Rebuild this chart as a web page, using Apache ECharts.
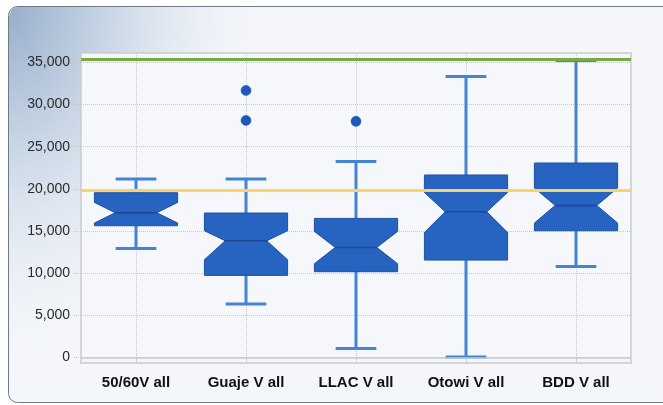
<!DOCTYPE html>
<html>
<head>
<meta charset="utf-8">
<script src="https://cdn.jsdelivr.net/npm/echarts@6/dist/echarts.min.js"></script>
<style>
  html, body { margin: 0; padding: 0; background: #ffffff; }
  #chart { width: 663px; height: 405px; }
</style>
</head>
<body>
<div id="chart"></div>
<script>
// Notched box plots of V by location
const categories = ['50/60V all', 'Guaje V all', 'LLAC V all', 'Otowi V all', 'BDD V all'];
const whiskerLow  = [12930,  6330,  1070,    50, 10790];
const q1          = [15620,  9730, 10170, 11550, 15030];
const notchLow    = [15940, 11590, 11120, 14830, 15940];
const median      = [17160, 13840, 13050, 17280, 18030];
const notchHigh   = [18390, 15030, 14950, 19570, 20100];
const q3          = [19540, 17130, 16490, 21640, 23060];
const whiskerHigh = [21160, 21160, 23250, 33330, 35230];

// Outliers: [category index, value]
const outliers = [[1, 31670], [1, 28110], [2, 28000]];

// Reference lines
const upperLimit = 35370;
const lowerLimit = 19810;

const yTicks = [0, 5000, 10000, 15000, 20000, 25000, 30000, 35000];

const boxData = categories.map((c, i) => [
  i, whiskerLow[i], q1[i], notchLow[i], median[i], notchHigh[i], q3[i], whiskerHigh[i]
]);

const labelFont = '"Liberation Sans Narrow", "Liberation Sans", Arial, sans-serif';

function renderBox(params, api) {
  const idx = api.value(0);
  const band = api.size([1, 0])[0];
  const half = band * 0.378;
  const waist = half * 0.5;
  const capHalf = band * 0.185;
  const pt = (v) => api.coord([idx, v]);
  const cx = pt(api.value(4))[0];
  const yLow = pt(api.value(1))[1];
  const yQ1 = pt(api.value(2))[1];
  const yNLo = pt(api.value(3))[1];
  const yMed = pt(api.value(4))[1];
  const yNHi = pt(api.value(5))[1];
  const yQ3 = pt(api.value(6))[1];
  const yHigh = pt(api.value(7))[1];
  const L = cx - half, R = cx + half;
  const whisker = { stroke: '#4583d6', lineWidth: 3 };
  return {
    type: 'group',
    children: [
      { type: 'line', shape: { x1: cx, y1: yQ3, x2: cx, y2: yHigh }, style: whisker },
      { type: 'line', shape: { x1: cx, y1: yQ1, x2: cx, y2: yLow }, style: whisker },
      { type: 'line', shape: { x1: cx - capHalf, y1: yHigh, x2: cx + capHalf, y2: yHigh }, style: whisker },
      { type: 'line', shape: { x1: cx - capHalf, y1: yLow, x2: cx + capHalf, y2: yLow }, style: whisker },
      {
        type: 'polygon',
        shape: {
          points: [
            [L, yQ3], [R, yQ3], [R, yNHi], [R - (half - waist), yMed], [R, yNLo],
            [R, yQ1], [L, yQ1], [L, yNLo], [L + (half - waist), yMed], [L, yNHi]
          ]
        },
        style: { fill: '#2763c0', stroke: '#1f51a3', lineWidth: 1 }
      },
      {
        type: 'line',
        shape: { x1: L + (half - waist), y1: yMed, x2: R - (half - waist), y2: yMed },
        style: { stroke: '#1b4891', lineWidth: 1.5 }
      }
    ]
  };
}

const chart = echarts.init(document.getElementById('chart'), null, { renderer: 'canvas' });

chart.setOption({
  animation: false,
  backgroundColor: '#ffffff',
  graphic: [
    {
      // panel
      type: 'rect',
      z: -12,
      shape: { x: 8.5, y: 6.5, width: 720, height: 396, r: [9, 0, 0, 9] },
      style: { fill: '#f4f6fa', stroke: '#6f7a87', lineWidth: 1 }
    },
    {
      // bluish corner shading, stretched vertically
      type: 'rect',
      z: -11,
      x: 9, y: 7,
      scaleY: 1.4,
      shape: { x: 0, y: 0, width: 270, height: 282, r: [8, 0, 0, 0] },
      style: {
        fill: new echarts.graphic.RadialGradient(0, 0, 1, [
          { offset: 0, color: 'rgba(150,173,203,1)' },
          { offset: 0.35, color: 'rgba(190,206,224,0.85)' },
          { offset: 0.7, color: 'rgba(225,232,241,0.5)' },
          { offset: 1, color: 'rgba(244,246,250,0)' }
        ])
      }
    }
  ],
  grid: {
    left: 81, right: 32, top: 53, bottom: 42,
    show: true,
    backgroundColor: '#f5f7fb',
    borderColor: '#c9cbce',
    borderWidth: 1.5,
    outerBoundsMode: 'none'
  },
  xAxis: {
    type: 'category',
    data: categories,
    boundaryGap: true,
    axisLine: { show: false },
    axisTick: {
      show: true, alignWithLabel: true, interval: 0, length: 6,
      lineStyle: { color: '#c4c4c4', type: 'dotted' }
    },
    splitLine: {
      show: true, alignWithLabel: true, interval: 0,
      lineStyle: { color: '#c8c8c8', type: 'dotted', width: 1 }
    },
    axisLabel: {
      interval: 0,
      margin: 12,
      color: '#111111',
      fontFamily: labelFont,
      fontWeight: 'bold',
      fontSize: 15
    }
  },
  yAxis: {
    type: 'value',
    min: -660,
    max: 36110,
    axisLine: { show: false },
    axisTick: {
      show: true, length: 7, customValues: yTicks,
      lineStyle: { color: '#c4c4c4', type: 'dotted' }
    },
    splitLine: {
      show: true,
      lineStyle: { color: '#c8c8c8', type: 'dotted', width: 1 }
    },
    axisLabel: {
      margin: 11,
      customValues: yTicks,
      color: '#2b2b2b',
      fontFamily: labelFont,
      fontSize: 14,
      formatter: (v) => v.toLocaleString('en-US')
    }
  },
  series: [
    {
      type: 'line',
      data: [],
      z: 1,
      markLine: {
        silent: true,
        symbol: 'none',
        label: { show: false },
        lineStyle: { color: '#c6c8cb', width: 1.5, type: 'solid' },
        data: [{ yAxis: 0 }]
      }
    },
    {
      type: 'custom',
      renderItem: renderBox,
      data: boxData,
      z: 2
    },
    {
      type: 'scatter',
      data: outliers,
      symbol: 'circle',
      symbolSize: 10,
      z: 3,
      itemStyle: { color: '#1f58b8', borderColor: '#1a4a9c', borderWidth: 0.5, opacity: 1 }
    },
    {
      type: 'line',
      data: [],
      z: 4,
      markLine: {
        silent: true,
        symbol: 'none',
        label: { show: false },
        data: [
          { yAxis: upperLimit, lineStyle: { color: '#74ae42', width: 3, type: 'solid' } },
          { yAxis: lowerLimit, lineStyle: { color: '#fbd36d', width: 3, type: 'solid' } }
        ]
      }
    }
  ]
});
</script>
</body>
</html>
